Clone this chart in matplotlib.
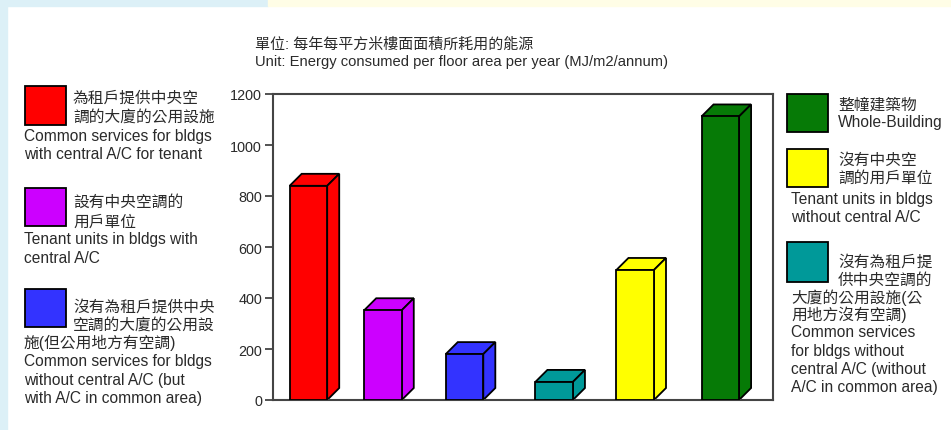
import matplotlib
matplotlib.use('Agg')
import matplotlib.pyplot as plt
from matplotlib.patches import Polygon, Rectangle

plt.rcParams['font.family'] = ['Liberation Sans', 'Noto Sans CJK TC']

# --- data ---
values = [840, 352, 180, 71, 510, 1112]
colors = ['#ff0000', '#cc00ff', '#3333ff', '#009999', '#ffff00', '#067a06']
yticks = [0, 200, 400, 600, 800, 1000, 1200]
title_zh = '單位: 每年每平方米樓面面積所耗用的能源'
title_en = 'Unit: Energy consumed per floor area per year (MJ/m2/annum)'

label_red_zh = ['為租戶提供中央空', '調的大廈的公用設施']
label_red_en = ['Common services for bldgs', 'with central A/C for tenant']
label_purple_zh = ['設有中央空調的', '用戶單位']
label_purple_en = ['Tenant units in bldgs with', 'central A/C']
label_blue_zh = ['沒有為租戶提供中央', '空調的大廈的公用設', '施(但公用地方有空調)']
label_blue_en = ['Common services for bldgs', 'without central A/C (but', 'with A/C in common area)']
label_green_zh = ['整幢建築物']
label_green_en = ['Whole-Building']
label_yellow_zh = ['沒有中央空', '調的用戶單位']
label_yellow_en = ['Tenant units in bldgs', 'without central A/C']
label_teal_zh = ['沒有為租戶提', '供中央空調的', '大廈的公用設施(公', '用地方沒有空調)']
label_teal_en = ['Common services', 'for bldgs without', 'central A/C (without', 'A/C in common area)']

W, H = 951, 431
TXT = '#2a2a2a'
EN_SIZE = 11.2
ZH_SIZE = 11.3


def fx(px):
    return px / W


def fy(py):
    return 1 - py / H


fig = plt.figure(figsize=(W / 100, H / 100), dpi=100)
fig.patch.set_facecolor('white')

# --- page background strips ---
fig.add_artist(Rectangle((0, 0), fx(7), 1, transform=fig.transFigure, color='#dcf0f7', zorder=0))
fig.add_artist(Rectangle((0, fy(7)), fx(268), 7 / H, transform=fig.transFigure, color='#dcf0f7', zorder=0))
fig.add_artist(Rectangle((fx(268), fy(7)), 1, 7 / H, transform=fig.transFigure, color='#fffde6', zorder=0))

# --- axes ---
ax = fig.add_axes([fx(273), fy(401), fx(773) - fx(273), fy(95) - fy(401)])
# bar slots as laid out in the original (slightly uneven spacing)
x = [0, 0.905, 1.895, 2.983, 3.967, 5.0]
bw = 0.456
dx, dy = 0.146, 47

ax.bar(x, values, width=bw, color=colors, edgecolor='black', linewidth=1.3, zorder=3)
for xi, v, c in zip(x, values, colors):
    x0, x1 = xi - bw / 2, xi + bw / 2
    top = Polygon([(x0, v), (x1, v), (x1 + dx, v + dy), (x0 + dx, v + dy)],
                  closed=True, fc=c, ec='black', lw=1.3, zorder=2)
    side = Polygon([(x1, 0), (x1 + dx, dy), (x1 + dx, v + dy), (x1, v)],
                   closed=True, fc=c, ec='black', lw=1.3, zorder=2)
    ax.add_patch(top)
    ax.add_patch(side)

ax.set_xlim(-0.43, 5.64)
ax.set_ylim(0, 1200)
ax.set_yticks(yticks)
ax.set_yticklabels([str(t) for t in yticks], fontsize=10.4, color=TXT)
ax.set_xticks([])
ax.tick_params(axis='y', direction='out', length=6, width=1.3, color='#444444', pad=2)
for s in ax.spines.values():
    s.set_color('#444444')
    s.set_linewidth(1.5)

# --- titles ---
fig.text(fx(255), fy(45), title_zh, fontsize=10.8, color=TXT, va='center', ha='left')
fig.text(fx(255), fy(62), title_en, fontsize=10.6, color=TXT, va='center', ha='left')


def legend_item(box, color, zh_lines, zh_pos, en_lines, en_pos):
    x0, y0, x1, y1 = box
    fig.add_artist(Rectangle((fx(x0), fy(y1)), fx(x1) - fx(x0), fy(y0) - fy(y1),
                             transform=fig.transFigure, fc=color, ec='black', lw=1.3))
    for line, (px, py) in zip(zh_lines, zh_pos):
        fig.text(fx(px), fy(py), line, fontsize=ZH_SIZE, color=TXT, va='center', ha='left')
    for line, (px, py) in zip(en_lines, en_pos):
        fig.text(fx(px), fy(py), line, fontsize=EN_SIZE, color=TXT, va='center', ha='left')


# left legend
legend_item((25, 87, 66, 126), colors[0], label_red_zh, [(73, 98), (73, 117)],
            label_red_en, [(24, 137), (24, 155)])
legend_item((25, 189, 66, 227), colors[1], label_purple_zh, [(73, 202), (73, 222)],
            label_purple_en, [(24, 240), (24, 259)])
legend_item((25, 290, 66, 328), colors[2], label_blue_zh, [(73, 307), (73, 325), (24, 343)],
            label_blue_en, [(24, 362), (24, 381), (24, 399)])

# right legend
legend_item((787, 95, 828, 133), colors[5], label_green_zh, [(838, 105)],
            label_green_en, [(838, 123)])
legend_item((787, 150, 828, 188), colors[4], label_yellow_zh, [(838, 160), (838, 178)],
            label_yellow_en, [(791, 200), (791, 218)])
legend_item((787, 243, 828, 283), colors[3], label_teal_zh,
            [(838, 262), (838, 280), (791, 298), (791, 315)],
            label_teal_en, [(791, 333), (791, 352), (791, 370), (791, 388)])

fig.savefig('out.png', dpi=100)
